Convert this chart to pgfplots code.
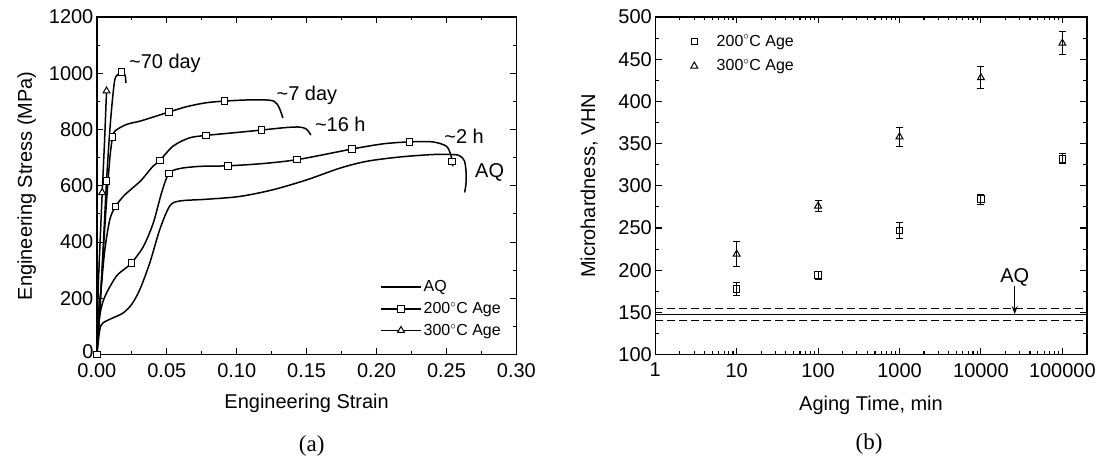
\documentclass[border=0pt]{standalone}
\usepackage{pgfplots}
\pgfplotsset{compat=1.18}
\usetikzlibrary{arrows.meta}
\usepackage{fontspec}
\setmainfont{Liberation Sans}
\newfontfamily\capfont{Liberation Serif}
\newcommand\fa{\fontsize{20}{24}\selectfont}
\newcommand\fl{\fontsize{16}{19}\selectfont}
\begin{document}
\begin{tikzpicture}
\path (0,0) rectangle (1099pt,458pt);
\pgfplotsset{common/.style={scale only axis, height=338pt, anchor=south west,
  tick align=inside, major tick length=6.5pt, minor tick length=3.5pt,
  axis line style={line width=1.5pt},
  every tick/.append style={line width=1.1pt, black},
  tick label style={font=\fa}, label style={font=\fa},
  yticklabel style={inner ysep=0pt},
  /pgf/number format/assume math mode=true,
  /pgf/number format/set thousands separator={}}}
% ---------------- (a) ----------------
\begin{axis}[common, width=420pt, at={(97pt,103pt)},
  xmin=0, xmax=0.3, ymin=0, ymax=1200,
  xtick={0,0.05,0.1,0.15,0.2,0.25,0.3},
  xticklabels={0.00,0.05,0.10,0.15,0.20,0.25,0.30},
  minor xtick={0.025,0.075,0.125,0.175,0.225,0.275},
  ytick={200,400,600,800,1000,1200},
  minor ytick={100,300,500,700,900,1100},
  extra y ticks={0},
  extra y tick style={yticklabel style={yshift=3pt}},
  xticklabel style={yshift=-5pt},
  xlabel={Engineering Strain}, ylabel={Engineering Stress (MPa)},
  xlabel style={at={(axis description cs:0.5,-0.145)}, anchor=center},
  ylabel style={at={(axis description cs:-0.167,0.5)}, anchor=center},
  legend style={at={(axis description cs:0.675,0.225)}, anchor=north west,
    draw=none, fill=none, font=\fl, row sep=5pt, inner sep=0pt},
  legend cell align=left,
  legend image code/.code={\draw[mark repeat=2,mark phase=2] plot coordinates {(0pt,0pt) (20pt,0pt) (40pt,0pt)};},
  every axis plot/.append style={black, line width=1.5pt},
  mark options={fill=white, solid, line width=1pt}]
\addlegendimage{black, line width=1.5pt}
\addlegendentry{AQ}
\addlegendimage{black, line width=1.5pt, mark=square*, mark size=3.3pt, mark options={fill=white, line width=1pt}}
\addlegendentry{200$^{\circ}$C Age}
\addlegendimage{black, line width=1.5pt, mark=triangle*, mark size=4pt, mark options={fill=white, line width=1pt}}
\addlegendentry{300$^{\circ}$C Age}
% AQ
\addplot[smooth, forget plot] coordinates {(0,0) (0.0021,89) (0.0045,113) (0.0117,131) (0.0188,148) (0.0248,178) (0.0307,231) (0.0379,327) (0.045,445) (0.0521,528) (0.0593,546) (0.078,552) (0.102,562) (0.126,586) (0.150,621) (0.174,663) (0.193,687) (0.216,702) (0.240,711) (0.2545,711) (0.2593,707) (0.2629,688) (0.2641,640) (0.2638,600) (0.2629,576)};
% ~2 h
\addplot[smooth, forget plot] coordinates {(0,0) (0.001,101) (0.0034,172) (0.0069,219) (0.014,279) (0.020,305) (0.0248,326) (0.0331,383) (0.0402,466) (0.0462,574) (0.0514,643) (0.059,661) (0.0736,669) (0.0938,671) (0.1188,679) (0.1433,693) (0.1736,722) (0.1826,731) (0.2045,749) (0.2236,756) (0.240,756) (0.2498,741) (0.253,711) (0.254,687) (0.2545,669)};
% ~16 h
\addplot[smooth, forget plot] coordinates {(0,0) (0.001,136) (0.0034,255) (0.0057,374) (0.0093,481) (0.0133,526) (0.0188,562) (0.025,590) (0.031,616) (0.036,645) (0.040,669) (0.045,690) (0.0545,741) (0.066,770) (0.078,779) (0.097,788) (0.1176,798) (0.133,806) (0.1435,809) (0.149,804) (0.1515,792) (0.153,780)};
% ~7 day
\addplot[smooth, forget plot] coordinates {(0,0) (0.002,150) (0.004,320) (0.006,480) (0.008,620) (0.0095,710) (0.0112,773) (0.013,795) (0.0212,818) (0.031,830) (0.0426,848) (0.0514,862) (0.064,881) (0.078,895) (0.0912,901) (0.107,905) (0.121,905) (0.1265,901) (0.129,890) (0.131,870) (0.133,841)};
% ~70 day
\addplot[smooth, forget plot] coordinates {(0,0) (0.002,150) (0.004,330) (0.0055,480) (0.0069,618) (0.009,780) (0.011,900) (0.0129,979) (0.0152,996) (0.0176,1005) (0.0195,1000) (0.0205,985) (0.0207,965)};
% 300 C
\addplot[forget plot] coordinates {(0,0) (0.001,250) (0.0038,576) (0.0055,760) (0.0069,937) (0.0071,930)};
% markers
\addplot[only marks, mark=square*, mark size=3.3pt, forget plot] coordinates {(0,0) (0.0248,326) (0.0514,643) (0.0938,671) (0.1433,693) (0.1826,731) (0.2236,756) (0.254,687) (0.0133,526) (0.045,690) (0.078,779) (0.1176,798) (0.0112,773) (0.0514,862) (0.0912,901) (0.0069,618) (0.0176,1005)};
\addplot[only marks, mark=triangle*, mark size=4pt, forget plot] coordinates {(0.0038,576) (0.0069,937)};
\node[anchor=west, font=\fa] at (axis cs:0.0205,1036) {\textasciitilde 70 day};
\node[anchor=west, font=\fa] at (axis cs:0.126,920) {\textasciitilde 7 day};
\node[anchor=west, font=\fa] at (axis cs:0.1535,820) {\textasciitilde 16 h};
\node[anchor=west, font=\fa] at (axis cs:0.246,775) {\textasciitilde 2 h};
\node[anchor=west, font=\fa] at (axis cs:0.268,647) {AQ};
\end{axis}
% ---------------- (b) ----------------
\begin{axis}[common, width=432pt, at={(656pt,103pt)},
  xmode=log, xmin=1, xmax=199526, ymin=100, ymax=500,
  xtick={1,10,100,1000,10000,100000},
  xticklabels={1,10,100,1000,10000,100000},
  minor xtick={2,3,4,5,6,7,8,9,20,30,40,50,60,70,80,90,200,300,400,500,600,700,800,900,2000,3000,4000,5000,6000,7000,8000,9000,20000,30000,40000,50000,60000,70000,80000,90000},
  ytick={100,150,200,250,300,350,400,450,500},
  minor y tick num=1,
  xticklabel style={yshift=-5pt},
  xlabel={Aging Time, min}, ylabel={Microhardness, VHN},
  xlabel style={at={(axis description cs:0.5,-0.151)}, anchor=center},
  ylabel style={at={(axis description cs:-0.153,0.5)}, anchor=center},
  legend style={at={(axis description cs:0.082,0.953)}, anchor=north west,
    draw=none, fill=none, font=\fl, row sep=8pt, inner sep=0pt,
    /tikz/every odd column/.append style={column sep=17pt}},
  legend cell align=left]
\addplot[only marks, black, mark=square, mark size=3.3pt, mark options={line width=1pt},
  error bars/.cd, y dir=both, y explicit,
  error bar style={line width=1pt}, error mark options={line width=1pt, mark size=3.5pt, rotate=90}]
  coordinates {(10,178) +- (0,8) (100,194) +- (0,5) (1000,247) +- (0,9) (10000,284) +- (0,6) (100000,332) +- (0,6)};
\addlegendentry{200$^{\circ}$C Age}
\addplot[only marks, black, mark=triangle, mark size=4pt, mark options={line width=1pt},
  error bars/.cd, y dir=both, y explicit,
  error bar style={line width=1pt}, error mark options={line width=1pt, mark size=3.5pt, rotate=90}]
  coordinates {(10,219) +- (0,15) (100,276) +- (0,7) (1000,358) +- (0,11) (10000,428) +- (0,13) (100000,469) +- (0,14)};
\addlegendentry{300$^{\circ}$C Age}
\addplot[black, line width=1.1pt, forget plot] coordinates {(1,147) (199526,147)};
\addplot[black, line width=1.1pt, dashed, dash pattern=on 8pt off 4pt, forget plot] coordinates {(1,155) (199526,155)};
\addplot[black, line width=1.1pt, dashed, dash pattern=on 8pt off 4pt, forget plot] coordinates {(1,140) (199526,140)};
\draw[-{Stealth[length=8pt,width=6pt]}, line width=1.1pt] (axis cs:26000,181) -- (axis cs:26000,148);
\node[font=\fa] at (axis cs:26000,192) {AQ};
\end{axis}
\node[font=\capfont\fontsize{23}{27}\selectfont] at (312pt,12pt) {(a)};
\node[font=\capfont\fontsize{23}{27}\selectfont] at (870pt,14pt) {(b)};
\end{tikzpicture}
\end{document}
